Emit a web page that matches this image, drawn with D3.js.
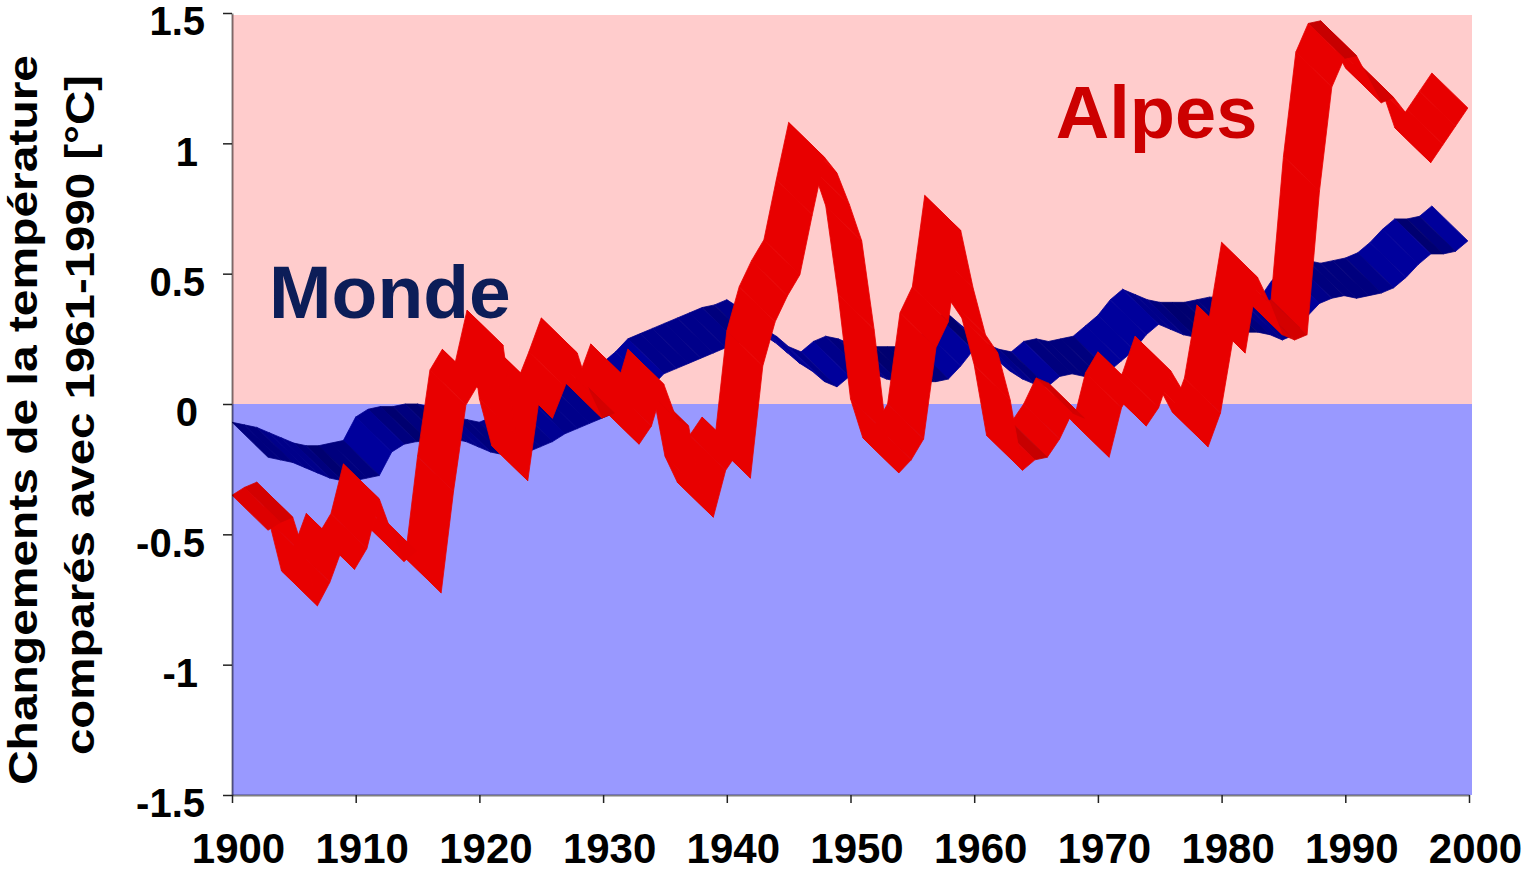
<!DOCTYPE html>
<html>
<head>
<meta charset="utf-8">
<script src="https://cdn.jsdelivr.net/npm/d3@7"></script>
<style>
  body { margin: 0; background: #fff; }
  svg text { font-family: "Liberation Sans", Arial, sans-serif; font-weight: bold; }
</style>
</head>
<body>
<div id="chart"></div>
<script>
// years of the front edge of both ribbons
var years = [
  1900, 1901, 1902, 1903, 1904, 1905, 1906, 1907, 1908, 1909,
  1910, 1911, 1912, 1913, 1914, 1915, 1916, 1917, 1918, 1919,
  1920, 1921, 1922, 1923, 1924, 1925, 1926, 1927, 1928, 1929,
  1930, 1931, 1932, 1933, 1934, 1935, 1936, 1937, 1938, 1939,
  1940, 1941, 1942, 1943, 1944, 1945, 1946, 1947, 1948, 1949,
  1950, 1951, 1952, 1953, 1954, 1955, 1956, 1957, 1958, 1959,
  1960, 1961, 1962, 1963, 1964, 1965, 1966, 1967, 1968, 1969,
  1970, 1971, 1972, 1973, 1974, 1975, 1976, 1977, 1978, 1979,
  1980, 1981, 1982, 1983, 1984, 1985, 1986, 1987, 1988, 1989,
  1990, 1991, 1992, 1993, 1994, 1995, 1996, 1997
];

// world temperature anomaly (°C)
var monde = [
  -0.07, -0.08, -0.09, -0.11, -0.13, -0.15, -0.16, -0.16, -0.15, -0.14,
  -0.05, -0.02, -0.01, -0.01, 0.00, 0.00, -0.01, -0.03, -0.05, -0.06,
  -0.07, -0.05, -0.03, -0.01, 0.02, 0.04, 0.06, 0.08, 0.10, 0.12,
  0.16, 0.20, 0.25, 0.27, 0.29, 0.31, 0.33, 0.35, 0.37, 0.38,
  0.40, 0.37, 0.33, 0.29, 0.26, 0.22, 0.20, 0.24, 0.26, 0.25,
  0.23, 0.22, 0.22, 0.22, 0.22, 0.23, 0.28, 0.34, 0.34, 0.30,
  0.26, 0.23, 0.21, 0.20, 0.24, 0.25, 0.24, 0.25, 0.26, 0.30,
  0.34, 0.40, 0.44, 0.42, 0.40, 0.39, 0.39, 0.39, 0.40, 0.41,
  0.41, 0.40, 0.38, 0.40, 0.47, 0.52, 0.54, 0.55, 0.54, 0.55,
  0.56, 0.58, 0.62, 0.67, 0.71, 0.71, 0.72, 0.76
];

// alpine temperature anomaly (°C)
var alpes = [
  -0.35, -0.32, -0.30, -0.45, -0.64, -0.55, -0.42, -0.50, -0.42, -0.23,
  -0.36, -0.47, -0.43, -0.50, -0.59, -0.20, 0.13, 0.21, 0.15, 0.36,
  0.02, -0.16, 0.18, 0.08, 0.20, 0.33, 0.18, 0.08, 0.10, 0.23,
  -0.02, 0.05, 0.21, 0.08, 0.05, -0.20, -0.30, -0.12, -0.05, -0.15,
  0.28, 0.45, 0.55, 0.63, 0.86, 1.08, 1.02, 0.90, 0.76, 0.42,
  0.02, -0.13, -0.08, 0.00, 0.35, 0.45, 0.80, 0.58, 0.40, 0.33,
  0.15, -0.12, -0.08, -0.07, 0.00, 0.10, 0.08, -0.02, -0.07, 0.12,
  0.20, 0.05, 0.12, 0.26, 0.18, 0.06, -0.03, 0.10, 0.38, 0.33,
  0.62, 0.52, 0.40, 0.38, 0.40, 0.95, 1.35, 1.46, 1.47, 1.38,
  1.29, 1.31, 1.25, 1.20, 1.06, 1.13, 1.20, 1.27
];

var yTicks = [-1.5, -1, -0.5, 0, 0.5, 1, 1.5];
var xTicks = [1900, 1910, 1920, 1930, 1940, 1950, 1960, 1970, 1980, 1990, 2000];
var seriesLabels = ["Monde", "Alpes"];
var yTitle = ["Changements de la température", "comparés avec 1961-1990 [°C]"];

var svgWidth = 1528, svgHeight = 876;
var margin = {top: 13, right: 59, bottom: 81, left: 232},
    width = svgWidth - margin.left - margin.right,
    height = svgHeight - margin.top - margin.bottom;

var svg = d3.select("#chart")
  .append("svg")
  .attr("width", svgWidth)
  .attr("height", svgHeight);

var g = svg.append("g")
  .attr("transform", "translate(" + margin.left + "," + margin.top + ")");

var x = d3.scaleLinear().domain([1900, 2000]).range([0, width]);
var y = d3.scaleLinear().domain([-1.5, 1.5]).range([height, 0]);

// warm / cold background
g.append("rect")
  .attr("x", 0).attr("y", y(1.5) + 2)
  .attr("width", x(2000) + 3).attr("height", y(0) - y(1.5) - 2)
  .attr("fill", "#ffcccc");
g.append("rect")
  .attr("x", 0).attr("y", y(0))
  .attr("width", x(2000) + 3).attr("height", y(-1.5) - y(0))
  .attr("fill", "#9999ff");

// 3d ribbon: front edge is the data line, back edge shifted by depth
var depth = [36, 35];

function drawRibbon(values, bright, dark) {
  var pts = values.map(function(v, i) { return [x(years[i]), y(v)]; });
  var faces = [];
  for (var i = 0; i < pts.length - 1; i++) {
    var a = pts[i], b = pts[i + 1];
    faces.push([a, b, [b[0] + depth[0], b[1] + depth[1]], [a[0] + depth[0], a[1] + depth[1]]]);
  }
  // draw right to left so the left faces come out in front
  faces.reverse();
  var shade = d3.interpolateRgb(dark, bright);
  var poly = d3.line();

  g.append("g").selectAll("path")
    .data(faces)
    .enter()
    .append("path")
    .attr("d", function(f) { return poly(f) + "Z"; })
    .attr("fill", function(f) {
      var dx = f[1][0] - f[0][0], dy = f[1][1] - f[0][1];
      var t = Math.abs(dy) / Math.sqrt(dx * dx + dy * dy);
      return shade(Math.min(1, t * 1.5));
    })
    .attr("stroke", function(f) {
      var dx = f[1][0] - f[0][0], dy = f[1][1] - f[0][1];
      var t = Math.abs(dy) / Math.sqrt(dx * dx + dy * dy);
      return shade(Math.min(1, t * 1.5));
    })
    .attr("stroke-width", 0.8)
    .attr("stroke-linejoin", "round");
}

drawRibbon(monde, "#00009c", "#000070");
drawRibbon(alpes, "#e80000", "#b80000");

// series labels
g.append("text")
  .attr("x", x(1903)).attr("y", y(0.33))
  .attr("font-size", 75)
  .attr("fill", "#0c1d58")
  .text(seriesLabels[0]);
g.append("text")
  .attr("x", x(1966.6)).attr("y", y(1.02))
  .attr("font-size", 74)
  .attr("fill", "#cc0000")
  .text(seriesLabels[1]);

// left axis
var yAxis = g.append("g")
  .call(d3.axisLeft(y).tickValues(yTicks).tickSize(9).tickSizeOuter(0).tickPadding(18)
    .tickFormat(function(d) { return String(d); }));
yAxis.select(".domain").attr("stroke", "#000").attr("stroke-opacity", 0.5).attr("stroke-width", 2);
yAxis.selectAll(".tick line").attr("stroke", "#222").attr("stroke-width", 1.5);
yAxis.selectAll(".tick text")
  .attr("font-size", 40)
  .attr("fill", "#000")
  .attr("y", 9)
  .attr("dx", function(d) { return Number.isInteger(d) ? -7 : 0; });

// bottom axis
var xAxis = g.append("g")
  .attr("transform", "translate(0," + height + ")")
  .call(d3.axisBottom(x).tickValues(xTicks).tickSize(8).tickSizeOuter(0).tickPadding(30)
    .tickFormat(d3.format("d")));
xAxis.select(".domain").attr("stroke", "#000").attr("stroke-opacity", 0.5).attr("stroke-width", 2);
xAxis.selectAll(".tick line").attr("stroke", "#222").attr("stroke-width", 1.5);
xAxis.selectAll(".tick text")
  .attr("font-size", 42)
  .attr("fill", "#000")
  .attr("dx", 6);

// axis title, two rotated lines
svg.append("text")
  .attr("transform", "translate(37,420) rotate(-90)")
  .attr("text-anchor", "middle")
  .attr("font-size", 40)
  .attr("textLength", 730)
  .attr("lengthAdjust", "spacingAndGlyphs")
  .text(yTitle[0]);
svg.append("text")
  .attr("transform", "translate(94,415) rotate(-90)")
  .attr("text-anchor", "middle")
  .attr("font-size", 40)
  .attr("textLength", 680)
  .attr("lengthAdjust", "spacingAndGlyphs")
  .text(yTitle[1]);
</script>
</body>
</html>
